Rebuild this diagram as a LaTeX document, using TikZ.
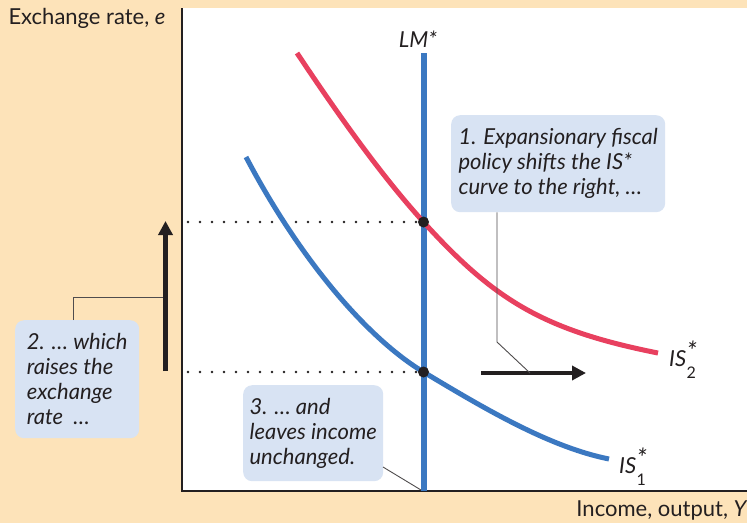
\documentclass[tikz,border=0pt]{standalone}
\usepackage{fontspec}
\setmainfont{Lato}
\usetikzlibrary{arrows.meta}
\definecolor{bgbeige}{HTML}{FDE3B9}
\definecolor{boxblue}{HTML}{D8E3F3}
\definecolor{curvered}{HTML}{E8405F}
\definecolor{curveblue}{HTML}{3B78C1}
\definecolor{ink}{HTML}{231F20}
\newcommand{\islabel}[1]{IS\hspace{0.5pt}\raisebox{-2pt}{\begin{tabular}[c]{@{}l@{}}\fontsize{26}{14}\selectfont *\\[-4pt]\fontsize{16}{14}\selectfont\upshape #1\end{tabular}}}
\tikzset{
  note/.style={fill=boxblue, rounded corners=9pt, anchor=north west, align=left,
    inner sep=0pt, font=\fontsize{22}{25}\selectfont\itshape, text=ink},
  curve/.style={line width=5pt},
  leader/.style={draw=ink!80, line width=0.9pt},
  bigarrow/.style={draw=ink, line width=4.5pt, -{Triangle[length=14pt,width=14pt]}},
  guide/.style={draw=ink, line width=2.8pt, line cap=round, dash pattern=on 0pt off 12pt},
  eqdot/.style={circle, fill=ink, inner sep=0pt, minimum size=11pt},
  axislabel/.style={font=\fontsize{22}{24}\selectfont, text=ink},
  curvelabel/.style={font=\fontsize{22}{22}\selectfont\itshape, text=ink, inner sep=0pt}
}
\begin{document}
\begin{tikzpicture}[x=1pt,y=-1pt]
\useasboundingbox (0,0) rectangle (747,523);
\fill[bgbeige] (0,0) rectangle (747,523);
\fill[white] (182,8) rectangle (747,491);
% axes
\coordinate (O) at (182,491);
\coordinate (Ytop) at (182,8);
\coordinate (Xend) at (747,491);
\draw[ink, line width=1.2pt] (Ytop) -- (O) -- (Xend);
\node[axislabel, anchor=west] (ylab) at (5,18) {Exchange rate, \textit{e}};
\node[axislabel, anchor=east] (xlab) at (751,510) {Income, output, \textit{Y}};
% equilibrium points
\coordinate (E2) at (423.5,222);
\coordinate (E1) at (423.5,372);
\coordinate (D2) at (188,222);
\coordinate (D1) at (188,372);
\draw[guide] (D2) -- (E2);
\draw[guide] (D1) -- (E1);
% LM*
\coordinate (LMtop) at (423.5,53);
\coordinate (LMbot) at (423.5,491);
\draw[curveblue, line width=6pt] (LMtop) -- (LMbot);
\node[curvelabel] (lmlab) at (418,39) {LM*};
% IS curves
\draw[curvered, curve] (297,53) .. controls (339,116) and (381.5,175.7) .. (E2)
   .. controls (493.5,299) and (542,330) .. (658,353);
\draw[curveblue, curve] (246,157) .. controls (301,261.5) and (368.5,339) .. (E1)
   .. controls (483.5,408) and (549,447) .. (609,459);
\node[eqdot] (e2) at (E2) {};
\node[eqdot] (e1) at (E1) {};
\node[curvelabel, anchor=base west] (is2) at (669,366) {\islabel{2}};
\node[curvelabel, anchor=base west] (is1) at (619,473) {\islabel{1}};
% arrows
\coordinate (va1) at (165.5,371);
\coordinate (va2) at (165.5,221);
\draw[bigarrow] (va1) -- (va2);
\coordinate (ha1) at (481,373);
\coordinate (ha2) at (586,373);
\draw[bigarrow] (ha1) -- (ha2);
% notes
\node[note, minimum width=214pt, minimum height=97pt] (n1) at (451,115) {1. Expansionary fiscal\\policy shifts the IS*\\curve to the right, \dots};
\node[note, minimum width=124pt, minimum height=118pt] (n2) at (15,320) {2. \dots\ which\\raises the\\exchange\\rate\ \ \dots};
\node[note, minimum width=140pt, minimum height=96pt] (n3) at (243,385) {3. \dots\ and\\leaves income\\unchanged.};
% leaders
\coordinate (k1) at (497,342);
\coordinate (t1) at (530,373);
\draw[leader] (n1.south west -| k1) -- (k1) -- (t1);
\coordinate (k2) at (73,297);
\coordinate (t2) at (163,297);
\draw[leader] (n2.north west -| k2) -- (k2) -- (t2);
\coordinate (s3) at (383,467);
\coordinate (t3) at (421,490);
\draw[leader] (s3) -- (t3);
\end{tikzpicture}
\end{document}
